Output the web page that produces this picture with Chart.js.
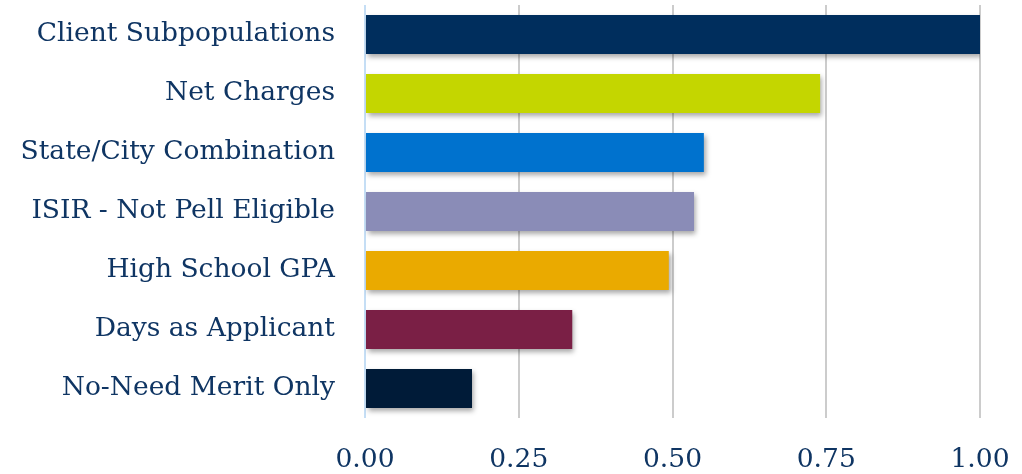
<!DOCTYPE html>
<html>
<head>
<meta charset="utf-8">
<script src="https://cdn.jsdelivr.net/npm/chart.js@4"></script>
<style>
  html, body { margin: 0; padding: 0; background: #fff; }
  #wrap { width: 1022px; height: 474px; }
</style>
</head>
<body>
<div id="wrap"><canvas id="chart"></canvas></div>
<script>
const categories = [
  "Client Subpopulations",
  "Net Charges",
  "State/City Combination",
  "ISIR - Not Pell Eligible",
  "High School GPA",
  "Days as Applicant",
  "No-Need Merit Only"
];
const importance = [1.00, 0.74, 0.551, 0.535, 0.494, 0.337, 0.174];
const barColors = ["#002e5d", "#c4d600", "#0072ce", "#8a8cb7", "#eaaa00", "#7a1f45", "#001b38"];
const xTicks = [0, 0.25, 0.5, 0.75, 1];

const textColor = "#0f3563";
const fontFamily = "'DejaVu Serif', 'Liberation Serif', serif";

// soft drop shadow under the bars
const barShadow = {
  id: "barShadow",
  beforeDatasetsDraw(chart) {
    const ctx = chart.ctx;
    ctx.save();
    ctx.shadowColor = "rgba(0, 0, 0, 0.35)";
    ctx.shadowBlur = 5;
    ctx.shadowOffsetX = 2;
    ctx.shadowOffsetY = 3;
  },
  afterDatasetsDraw(chart) {
    chart.ctx.restore();
  }
};

new Chart(document.getElementById("chart"), {
  type: "bar",
  data: {
    labels: categories,
    datasets: [{
      data: importance,
      backgroundColor: barColors,
      borderWidth: 0,
      categoryPercentage: 1,
      barPercentage: 0.66
    }]
  },
  plugins: [barShadow],
  options: {
    indexAxis: "y",
    responsive: true,
    maintainAspectRatio: false,
    animation: false,
    layout: { padding: { top: 5, right: 42, left: 0, bottom: 0 } },
    plugins: {
      legend: { display: false },
      tooltip: { enabled: false }
    },
    scales: {
      x: {
        min: 0,
        max: 1,
        afterBuildTicks(scale) {
          scale.ticks = xTicks.map(v => ({ value: v }));
        },
        afterFit(scale) {
          scale.height = 56;
          scale.paddingTop = 0;
          scale.paddingBottom = 0;
          scale.paddingLeft = 0;
          scale.paddingRight = 0;
        },
        border: { display: false },
        grid: {
          color: ctx => ctx.tick && ctx.tick.value === 0 ? "#c5def5" : "#cccccc",
          lineWidth: 2,
          drawTicks: false
        },
        ticks: {
          color: textColor,
          padding: 26,
          font: { family: fontFamily, size: 26.5 },
          callback: v => Number(v).toFixed(2)
        }
      },
      y: {
        afterFit(scale) {
          scale.width = 365;
          scale.paddingTop = 0;
          scale.paddingBottom = 0;
        },
        border: { display: false },
        grid: { display: false, drawTicks: false },
        ticks: {
          color: textColor,
          padding: 30,
          font: { family: fontFamily, size: 26.5 }
        }
      }
    }
  }
});
</script>
</body>
</html>
